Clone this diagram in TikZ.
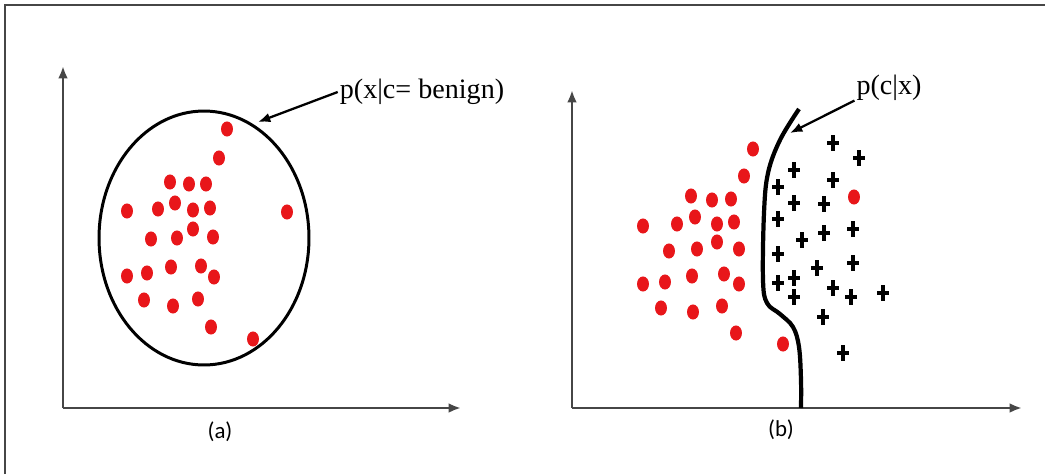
\documentclass[tikz,border=0pt]{standalone}
\usepackage{fontspec}
\setmainfont{Liberation Serif}
\newfontfamily\capfont{Carlito}
\usepackage{xcolor}
\usetikzlibrary{calc, positioning, arrows.meta}

\definecolor{dotred}{RGB}{232,22,26}
\definecolor{axisgray}{RGB}{70,70,70}

\begin{document}
\begin{tikzpicture}[>={Latex[length=7pt,width=5.5pt]}, x=0.02cm, y=-0.02cm,
    axis/.style={draw=axisgray, line width=1.5pt, ->},
    reddot/.style={fill=dotred},
    plusmark/.style={line width=2pt},
    note/.style={inner sep=1pt, font=\fontsize{16}{18}\selectfont},
    subcap/.style={font=\capfont\fontsize{13}{15}\selectfont}]
    \useasboundingbox (0,0) rectangle (1045,474);
    % Khung
    \draw[axisgray, line width=1.1pt] (5,474) -- (5,5) -- (1045,5);

    % Hình (a)
    \draw[axis] (63,408) -- (63,66);
    \draw[axis] (63,408) -- (461,408);
    \draw[line width=1.7pt] (204,238) ellipse [x radius=2.1cm, y radius=2.54cm];
    \foreach \px/\py in {227/129, 219/158, 170/182, 189/184, 206/184,
        127/211, 158/209, 175/203, 193/210, 210/208, 287/212,
        151/239, 177/238, 193/229, 213/237,
        127/276, 147/273, 171/267, 201/266, 214/277,
        144/300, 173/306, 198/299, 211/327, 253/339}
        \fill[reddot] (\px,\py) ellipse [x radius=3.4pt, y radius=4.3pt];
    \node[note] (lblA) at (422,92) {p(x|c= benign)};
    \coordinate (ellPt) at (258,122);
    \draw[->, line width=1.3pt] (lblA.west) -- (ellPt);
    \node[subcap] (capA) at (220,432) {(a)};

    % Hình (b)
    \draw[axis] (572,408) -- (572,90);
    \draw[axis] (572,408) -- (1022,408);
    \foreach \px/\py in {753/149, 744/176, 691/196, 712/200, 731/199,
        643/226, 677/224, 695/217, 717/224, 734/222, 717/242,
        669/251, 697/249, 739/249,
        643/284, 665/282, 692/276, 724/274, 739/284,
        661/308, 693/312, 722/306, 736/333, 783/344, 854/197}
        \fill[reddot] (\px,\py) ellipse [x radius=3.4pt, y radius=4.3pt];
    \foreach \px/\py in {833/143, 859/158, 794/170, 833/180, 778/187,
        794/203, 824/204, 778/219, 824/233, 853/229, 802/240,
        778/254, 817/268, 853/263, 778/283, 794/278, 794/297,
        833/288, 851/297, 883/293, 823/317, 843/353}
        \draw[plusmark] (\px,\py) +(-6,0) -- +(6,0) +(0,-8) -- +(0,8);
    \draw[line width=2.4pt] plot[smooth, tension=0.6] coordinates {(799,109) (780,140)
        (768,173) (764,213) (763,280) (767,303) (780,314) (793,327)
        (799,347) (801,380) (801,408)};
    \node[note] (lblB) at (889,88) {p(c|x)};
    \coordinate (bndPt) at (790,133);
    \draw[->, line width=1.3pt] (lblB.200) -- (bndPt);
    \node[subcap] (capB) at (781,430) {(b)};

\end{tikzpicture}
\end{document}
